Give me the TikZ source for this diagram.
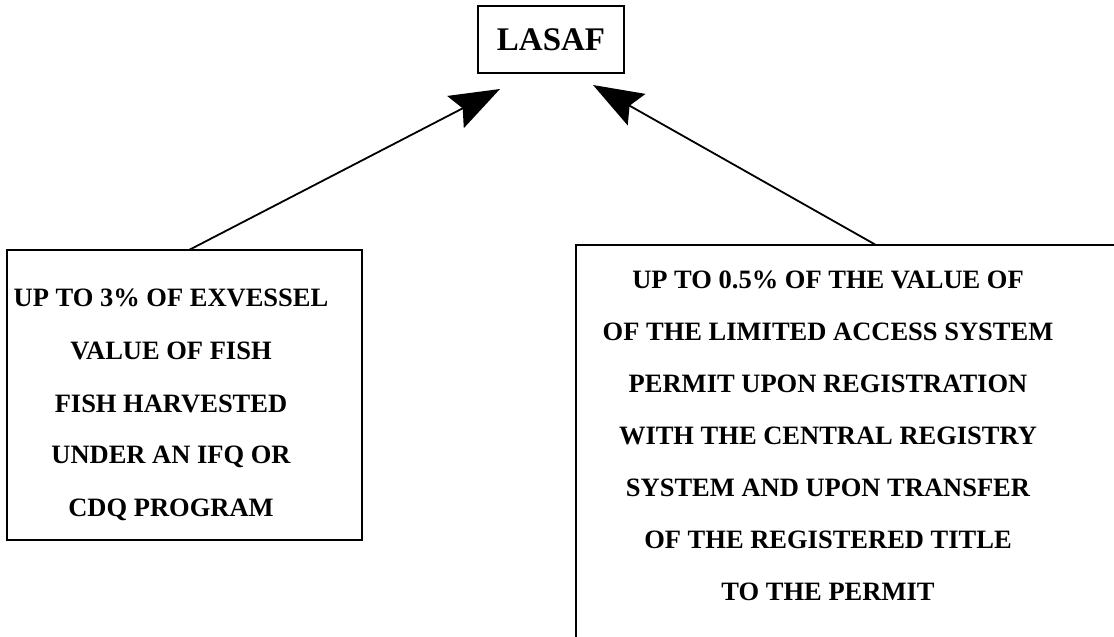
\documentclass[tikz,border=0pt]{standalone}
\usepackage{fontspec}
\setmainfont{Liberation Serif}
\usetikzlibrary{arrows.meta}

\begin{document}
\begin{tikzpicture}[x=1pt,y=-1pt,
	linha/.style={font=\bfseries\fontsize{26.5}{26.5}\selectfont, inner sep=0pt},
	seta/.style={line width=1.8pt, -{Stealth[length=50pt,width=36pt,inset=8pt]}}]

\clip (0,0) rectangle (1114,637);

% Caixa superior
\node[draw, line width=1.4pt, minimum width=146pt, minimum height=67pt, inner sep=0pt,
	font=\bfseries\fontsize{33}{33}\selectfont] (lasaf) at (551,39.5) {LASAF};

% Caixa esquerda
	\draw[line width=2pt] (7,250) rectangle (362,540);
	\foreach \t [count=\i from 0] in {UP TO 3\% OF EXVESSEL, VALUE OF FISH,
			FISH HARVESTED, UNDER AN IFQ OR, CDQ PROGRAM}
		\node[linha] (e\i) at (171,298+53*\i) {\t};

% Caixa direita
	\draw[line width=2pt] (576,245) rectangle (1140,680);
	\foreach \t [count=\i from 0] in {UP TO 0.5\% OF THE VALUE OF,
			OF THE LIMITED ACCESS SYSTEM, PERMIT UPON REGISTRATION,
			WITH THE CENTRAL REGISTRY, SYSTEM AND UPON TRANSFER,
			OF THE REGISTERED TITLE, TO THE PERMIT}
		\node[linha] (d\i) at (828,280+52*\i) {\t};

% Setas
\coordinate (baseE) at (189,250);
\coordinate (pontaE) at (500,89);
\coordinate (baseD) at (876,245);
\coordinate (pontaD) at (593,85);

\draw[seta] (baseE) -- (pontaE);
\draw[seta] (baseD) -- (pontaD);

\end{tikzpicture}
\end{document}
